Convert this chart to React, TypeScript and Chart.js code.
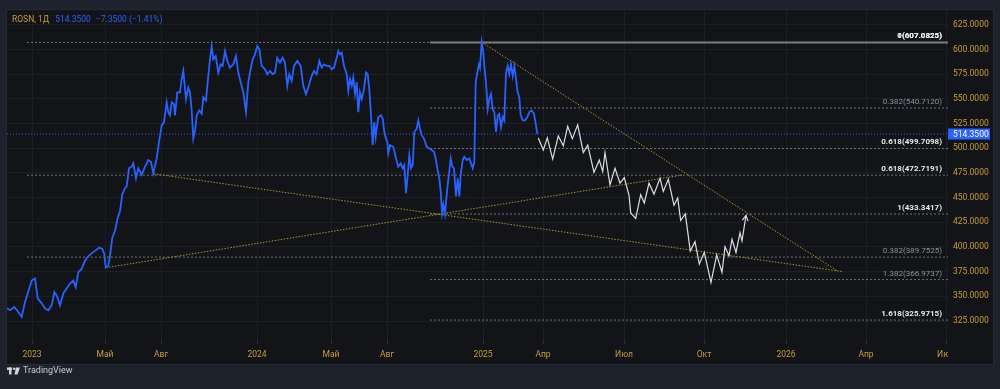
import React, { useEffect, useRef } from "react";
import { Chart, registerables } from "chart.js";

Chart.register(...registerables);

// ---------- data ----------
// time index (sessions on the chart's time scale) of the daily close line
const priceT = [
  0, 3, 7.3, 11.3, 14.7, 18, 20.7, 24.7, 28, 30.7,
  34.7, 38, 41.3, 44.7, 47.3, 49.7, 53, 56.3, 59.7, 63,
  66.3, 68.7, 71.3, 74.7, 78, 80.7, 84, 88, 92.3, 95.3,
  97.3, 98.7, 101.3, 103, 105.3, 108, 110.7, 113, 115.3, 118,
  119.7, 122, 124.7, 126.3, 129, 131.3, 134.7, 138, 141.3, 144,
  146.3, 149.7, 152, 154.7, 157, 159.7, 161.3, 163, 164.7, 167,
  168, 170.3, 173, 174.7, 176.3, 179, 181.3, 183, 184.7, 186.3,
  188.3, 189.7, 192.3, 194.7, 196.3, 199, 201.3, 203, 204.7, 206.3,
  208.7, 211.3, 213.7, 215.7, 218, 220.3, 223, 226.3, 229, 231.3,
  233.7, 236.3, 239, 241.3, 243, 245.7, 248, 250.3, 252.3, 254.7,
  258, 260.3, 263, 265.7, 268, 270.3, 273, 275.7, 278, 280.3,
  282.3, 284.7, 287, 290.3, 293.7, 296.3, 299, 301.3, 304.7, 307,
  309.7, 312.3, 314.7, 317, 319.7, 322.3, 324.7, 327, 329.7, 331.3,
  333, 334.7, 337, 339.7, 341.3, 343, 344.7, 346.3, 348, 349.7,
  351.3, 353, 354.7, 357, 359, 360.7, 362.3, 364, 365.7, 367.3,
  368.7, 369.7, 371.3, 374, 375.7, 377.3, 379, 380.3, 381.3, 383,
  386.3, 389, 391.3, 393.7, 395.7, 397.3, 399, 400.7, 402.3, 404,
  405.7, 407.3, 409.7, 411.3, 413, 414.7, 417, 419.7, 422.3, 424.7,
  427, 429, 430.3, 432.3, 433.7, 435, 436.3, 438, 440.3, 442.3,
  443.7, 445.3, 447, 449, 450.7, 452.3, 453.7, 455.7, 457.3, 459.7,
  462.3, 464, 465.7, 467.3, 468.7, 470.3, 472, 473, 474.7, 476.3,
  477.3, 479, 480.7, 482.3, 484, 485.7, 487.3, 489, 490.7, 492.3,
  494, 495.7, 497.3, 499, 500.7, 502.3, 504, 505.7, 507.3, 509,
  510.7, 512.3, 513.7, 515.7, 518, 520.3, 522.3, 524.7, 527, 528.7,
  530.3,
];
const priceV = [
  337.9, 335.9, 339.2, 334.2, 329.2, 344.2, 352.9, 366, 368, 347.9,
  342.9, 337.9, 335.9, 340.9, 354.2, 350.9, 340.9, 352.9, 357.9, 363,
  366, 359.2, 374.3, 378, 386, 390, 393, 396, 399.4, 398.1,
  393, 379.3, 381, 391, 409.4, 416.1, 429.4, 436.2, 453.2, 459.5,
  461.3, 479.6, 481.3, 484.6, 469.6, 479.6, 473, 481.3, 488, 486.3,
  474.5, 489.6, 506.4, 523.1, 526.4, 546.5, 536.5, 533.2, 546.5, 544.8,
  533.2, 556.5, 556.5, 569.9, 578.3, 549.8, 561.5, 556.5, 538.2, 509.7,
  519.7, 533.2, 538.2, 534.8, 551.5, 548.2, 573.3, 589.9, 603.4, 589.9,
  593.3, 576.6, 584.9, 583.3, 598.4, 588.3, 581.6, 584.9, 593.3, 576.6,
  566.6, 556.5, 536.5, 566.6, 576.6, 589.9, 595, 603.4, 600, 583.3,
  579.9, 574.9, 578.3, 574.9, 576.6, 591.6, 586.6, 591.6, 586.6, 563.2,
  574.9, 568.3, 583.3, 588.3, 583.3, 563.2, 554.8, 561.5, 573.3, 578.3,
  574.9, 588.3, 581.6, 584.9, 583.3, 583.3, 579.9, 581.6, 591.6, 598.4,
  595, 596.7, 583.3, 574.9, 558.2, 569.9, 563.2, 571.6, 554.8, 566.6,
  536.5, 556.5, 549.8, 559.8, 576.6, 574.9, 559.8, 533.2, 503.1, 526.4,
  511.4, 519.7, 531.5, 533.2, 529.8, 516.4, 509.7, 506.4, 494.6, 503.1,
  501.4, 489.6, 481.3, 484.6, 479.6, 483, 454.5, 473, 493, 479.6,
  483, 516.4, 519.7, 528.1, 519.7, 513.1, 509.7, 501.4, 499.7, 498.1,
  496.4, 488, 479.6, 469.6, 456.2, 434.5, 442.9, 433.4, 459.5, 476.3,
  489.6, 481.3, 479.6, 451.2, 469.6, 451.2, 473, 488, 491.3, 488,
  489.6, 484.6, 479.6, 486.3, 566.6, 576.6, 584.9, 581.6, 607.1, 596.7,
  583.3, 566.6, 539.8, 549.8, 554.8, 539.8, 536.5, 516.4, 533.2, 534.8,
  521.4, 531.5, 528.1, 576.6, 583.3, 574.9, 584.9, 573.3, 583.3, 569.9,
  556.5, 551.5, 533.2, 528.1, 528.1, 531.5, 536.5, 538.2, 534.8, 524.8,
  514.35,
];

// projected zig-zag path (white)
const pathT = [
  531.3, 536.3, 540.3, 545.7, 551.3, 556.3, 560.7, 565.3, 570.7, 576.3,
  580.7, 587, 592.3, 595.7, 598, 603, 608, 613, 617.3, 622,
  623.7, 628.7, 633.7, 637.3, 642, 647, 653, 656.3, 661.3, 667,
  670.7, 673.7, 678.3, 683.3, 688, 692.3, 697.3, 704, 709.7, 715,
  718, 722, 725, 729, 733, 735, 739,
];
const pathV = [
  510.4, 498.1, 510.4, 489, 512.4, 502.4, 522.1, 509.7, 523.7, 495.6,
  503.1, 475.6, 488, 476.3, 495.6, 463, 479.6, 464.6, 470.3, 452.2,
  434.5, 428.9, 452.9, 444.5, 464.6, 453.5, 469.6, 456.2, 468.6, 442.2,
  449.5, 426.8, 433.5, 396, 405.4, 382.7, 394.4, 364.2, 392, 374.3,
  400.1, 391, 407.8, 394.4, 414.4, 406.1, 431.9,
];

// trend lines (yellow dotted)
const trendFromT = [99, 147, 475];
const trendFromV = [379.0, 474.0, 607.08];
const trendToT = [675, 836, 830];
const trendToV = [472.72, 375.0, 376.0];

// Fibonacci tool A (anchored left) and tool B (anchored at the 2025 high)
const fibAStart = 20;
const fibALevels = [607.0825, 472.7191, 389.7525];
const fibARatios = [1, 0.618, 0.382];
const fibBStart = 423;
const fibBLevels = [607.0825, 540.712, 499.7098, 433.3417, 366.9737, 325.9715];
const fibBRatios = [0, 0.382, 0.618, 1, 1.382, 1.618];
const fibEnd = 941;
const fibLabelT = 935;

// axes
const timeMin = 0;
const timeMax = 941;
const priceMin = 305.8;
const priceMax = 639.8;
const timeTicks = [25, 98, 154, 250, 324, 380, 476, 536, 617, 697, 779, 859, 939];
const timeLabels = ["2023", "Май", "Авг", "2024", "Май", "Авг", "2025", "Апр", "Июл", "Окт", "2026", "Апр", "Июл"];
const priceTicks = [325, 350, 375, 400, 425, 450, 475, 500, 525, 550, 575, 600, 625];

const lastPrice = 514.35;
const symbolText = "ROSN, 1Д";
const lastText = "514.3500";
const changeText = "−7.3500 (−1.41%)";
const brandText = "TradingView";

// ---------- styles ----------
const OUTER = "#1e222d";
const PANEL = "#121418";
const GRID = "#1c1f26";
const GOLD = "#c99d3c";
const BLUE = "#2962ff";
const FONT = "Roboto, 'Liberation Sans', sans-serif";

export default function App() {
  const ref = useRef<HTMLCanvasElement>(null);

  useEffect(() => {
    document.body.style.margin = "0";
    document.body.style.background = OUTER;
    const canvas = ref.current!;

    const datasets: any[] = [];
    datasets.push({
      label: "ROSN",
      data: priceT.map((t, i) => ({ x: t, y: priceV[i] })),
      borderColor: BLUE,
      borderWidth: 1.8,
      pointRadius: 0,
      tension: 0,
    });
    datasets.push({
      label: "path",
      data: pathT.map((t, i) => ({ x: t, y: pathV[i] })),
      borderColor: "#dcdee3",
      borderWidth: 1.2,
      pointRadius: 0,
      tension: 0,
    });
    datasets.push({
      label: "last",
      data: [
        { x: timeMin, y: lastPrice },
        { x: timeMax, y: lastPrice },
      ],
      borderColor: BLUE,
      borderWidth: 1,
      borderDash: [1, 2],
      pointRadius: 0,
    });
    trendFromT.forEach((t, i) => {
      datasets.push({
        label: "trend" + i,
        data: [
          { x: t, y: trendFromV[i] },
          { x: trendToT[i], y: trendToV[i] },
        ],
        borderColor: "#a8952c",
        borderWidth: 1,
        borderDash: [1.5, 1.5],
        pointRadius: 0,
      });
    });
    const addFib = (start: number, lv: number, ratio: number, solid: boolean) => {
      datasets.push({
        label: "fib" + ratio,
        data: [
          { x: start, y: lv },
          { x: fibEnd, y: lv },
        ],
        borderColor: solid ? "#7d808a" : "#6f727b",
        borderWidth: solid ? 2 : 1,
        borderDash: solid ? [] : [2, 2],
        pointRadius: 0,
      });
    };
    fibALevels.forEach((lv, i) => addFib(fibAStart, lv, fibARatios[i], false));
    fibBLevels.forEach((lv, i) => addFib(fibBStart, lv, fibBRatios[i], fibBRatios[i] === 0));

    const bgPlugin = {
      id: "bg",
      beforeDraw(chart: any) {
        const { ctx, width, height, chartArea: a } = chart;
        ctx.save();
        ctx.fillStyle = OUTER;
        ctx.fillRect(0, 0, width, height);
        const right = chart.scales.y.right;
        const bottom = a.bottom + 24;
        ctx.fillStyle = PANEL;
        ctx.fillRect(a.left, a.top, right - a.left, bottom - a.top);
        ctx.strokeStyle = "#262a34";
        ctx.lineWidth = 1;
        ctx.strokeRect(a.left - 0.5, a.top - 0.5, right - a.left + 1, bottom - a.top + 1);
        ctx.restore();
      },
    };

    const overlayPlugin = {
      id: "overlay",
      afterDatasetsDraw(chart: any) {
        // arrow head at the end of the projected path
        const meta = chart.getDatasetMeta(1);
        const pts = meta.data;
        const p1 = pts[pts.length - 1];
        const p0 = pts[pts.length - 2];
        const ang = Math.atan2(p1.y - p0.y, p1.x - p0.x);
        const { ctx } = chart;
        ctx.save();
        ctx.strokeStyle = "#dcdee3";
        ctx.lineWidth = 1.2;
        ctx.beginPath();
        const L = 6;
        ctx.moveTo(p1.x - L * Math.cos(ang - 0.5), p1.y - L * Math.sin(ang - 0.5));
        ctx.lineTo(p1.x, p1.y);
        ctx.lineTo(p1.x - L * Math.cos(ang + 0.5), p1.y - L * Math.sin(ang + 0.5));
        ctx.stroke();
        ctx.restore();
      },
      afterDraw(chart: any) {
        const { ctx, chartArea: a } = chart;
        const xs = chart.scales.x;
        const ys = chart.scales.y;
        ctx.save();
        // clip time labels that run under the price scale
        ctx.fillStyle = PANEL;
        ctx.fillRect(a.right, a.bottom + 1, ys.right - a.right, 23);

        // fib labels
        ctx.textAlign = "right";
        ctx.textBaseline = "bottom";
        const drawLabel = (lv: number, ratio: number) => {
          const gray = ratio === 0.382 || ratio === 1.382;
          ctx.font = (gray ? "" : "bold ") + "8px " + FONT;
          ctx.fillStyle = gray ? "#8e919a" : "#e8e9ec";
          ctx.fillText(`${ratio}(${lv.toFixed(4)})`, xs.getPixelForValue(fibLabelT), ys.getPixelForValue(lv) - 2);
        };
        fibALevels.forEach((lv, i) => drawLabel(lv, fibARatios[i]));
        fibBLevels.forEach((lv, i) => drawLabel(lv, fibBRatios[i]));

        // last price tag
        const py = ys.getPixelForValue(lastPrice);
        ctx.fillStyle = BLUE;
        ctx.fillRect(a.right, py - 5.5, 42, 11);
        ctx.fillStyle = "#ffffff";
        ctx.textAlign = "left";
        ctx.textBaseline = "middle";
        ctx.font = "8.5px " + FONT;
        ctx.fillText(lastPrice.toFixed(4), a.right + 5, py + 0.5);

        // header
        ctx.textBaseline = "middle";
        ctx.font = "8.5px " + FONT;
        let hx = a.left + 5;
        const hy = a.top + 10;
        ctx.fillStyle = GOLD;
        ctx.fillText(symbolText, hx, hy);
        hx += ctx.measureText(symbolText).width + 6;
        ctx.fillStyle = BLUE;
        ctx.fillText(lastText, hx, hy);
        hx += ctx.measureText(lastText).width + 5;
        ctx.fillText(changeText, hx, hy);

        // brand
        const by = a.bottom + 31;
        ctx.fillStyle = "#d1d4dc";
        ctx.fillRect(a.left, by - 3.5, 5, 2.5);
        ctx.fillRect(a.left + 2, by - 3.5, 2.5, 7);
        ctx.beginPath();
        ctx.arc(a.left + 7.2, by - 2.2, 1.3, 0, Math.PI * 2);
        ctx.fill();
        ctx.beginPath();
        ctx.moveTo(a.left + 9, by - 3.5);
        ctx.lineTo(a.left + 13, by - 3.5);
        ctx.lineTo(a.left + 10.5, by + 3.5);
        ctx.lineTo(a.left + 7.5, by + 3.5);
        ctx.closePath();
        ctx.fill();
        ctx.font = "9px " + FONT;
        ctx.fillStyle = "#c9ccd4";
        ctx.textAlign = "left";
        ctx.textBaseline = "middle";
        ctx.fillText(brandText, a.left + 16, by);
        ctx.restore();
      },
    };

    const chart = new Chart(canvas, {
      type: "line",
      data: { datasets },
      options: {
        animation: false,
        responsive: false,
        devicePixelRatio: 1,
        parsing: false as any,
        normalized: true,
        events: [],
        layout: { padding: { left: 7, top: 7, right: 7, bottom: 25 } },
        plugins: { legend: { display: false }, tooltip: { enabled: false } },
        scales: {
          x: {
            type: "linear",
            min: timeMin,
            max: timeMax,
            afterBuildTicks: (s: any) => {
              s.ticks = timeTicks.map((v) => ({ value: v }));
            },
            afterFit: (s: any) => {
              s.height = 24;
            },
            ticks: {
              autoSkip: false,
              maxRotation: 0,
              padding: 6,
              color: GOLD,
              font: { family: FONT, size: 8.5 },
              callback: (v: any) => {
                const i = timeTicks.indexOf(Number(v));
                return i >= 0 ? timeLabels[i] : "";
              },
            },
            grid: { color: GRID, tickColor: "#2a2e38", tickLength: 4, drawTicks: true },
            border: { display: false },
          },
          y: {
            type: "linear",
            position: "right",
            min: priceMin,
            max: priceMax,
            afterBuildTicks: (s: any) => {
              s.ticks = priceTicks.map((v) => ({ value: v }));
            },
            afterFit: (s: any) => {
              s.width = 45;
            },
            ticks: {
              padding: 5,
              color: GOLD,
              font: { family: FONT, size: 8.5 },
              callback: (v: any) => Number(v).toFixed(4),
            },
            grid: { color: GRID, drawTicks: false },
            border: { display: false },
          },
        },
      },
      plugins: [bgPlugin, overlayPlugin],
    } as any);

    return () => chart.destroy();
  }, []);

  return (
    <div style={{ width: 1000, height: 389, background: OUTER }}>
      <canvas ref={ref} width={1000} height={389} style={{ display: "block" }} />
    </div>
  );
}
